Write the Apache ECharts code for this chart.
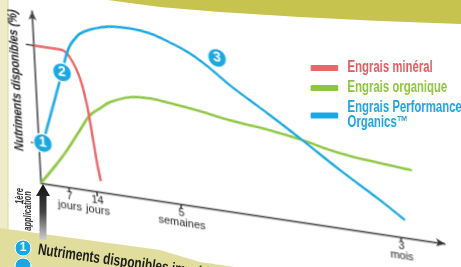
<!DOCTYPE html>
<html>
<head>
<meta charset="utf-8">
<script src="https://cdn.jsdelivr.net/npm/echarts@6/dist/echarts.min.js"></script>
<style>
html, body { margin: 0; padding: 0; background: #fff; overflow: hidden; width: 461px; height: 267px; }
#page, #chart { position: absolute; left: 0; top: 0; width: 461px; height: 267px; }
/* la page du dépliant est photographiée de biais : on incline le graphique */
#chart { transform: matrix(1, 0.15, 0.052, 1, 0, 0); transform-origin: 41px 183px; }
/* police étroite du dépliant : on resserre la légende */
#legend { position: absolute; left: 307px; top: 0; width: 220px; height: 267px; transform: scaleX(0.71); transform-origin: 0 0; }
</style>
</head>
<body>
<div id="page"></div>
<div id="chart"></div>
<div id="legend"></div>
<script>
// temps après la 1ère application (jours) et nutriments disponibles (%)
const mineralDays = [0, 4, 6.5, 8, 9.2, 10.3, 11.2, 12, 12.8, 13.7, 14.4, 15.1];
const mineralPct = [100, 100, 100, 98.4, 93.8, 87.8, 80.9, 71.2, 58.5, 37.1, 20.7, 8];

const organicDays = [0, 3.75, 7, 10.5, 13.2, 15.85, 18.4, 23.55, 28.6, 33.55, 38.5, 43.5, 48.4, 53.4, 58.4, 65.8, 75.7, 85.7, 93.6];
const organicPct = [0, 13.9, 27, 43, 55, 61.2, 66.7, 72.6, 74, 72.6, 71.1, 68.9, 66.7, 65.3, 63.8, 60.5, 54.7, 51.8, 50.2];

const perfDays = [1, 6.75, 8, 9.1, 10.5, 11.8, 14.4, 16.9, 20.2, 24.5, 29.4, 34.3, 39.2, 44.1, 48.9, 53.75, 58.6, 65.85, 75.5, 85.2, 91.2];
const perfPct = [29.5, 83.4, 96.2, 104, 109.6, 113.8, 117.8, 120.4, 122.5, 123, 121.5, 117.1, 111.3, 102.5, 92.3, 83.5, 74.8, 61.2, 42.3, 24.7, 12.8];

// repères de l'axe du temps
const tickDays = [7, 14, 35, 90];
const tickNums = ['7', '14', '5', '3'];
const tickUnits = ['jours', 'jours', 'semaines', 'mois'];
const pctTicks = [29, 100];

// pastilles numérotées sur la courbe bleue : [jour, %, numéro]
const badges = [[1, 29.5, '1'], [6.75, 83.4, '2'], [46, 111, '3']];

const seriesNames = ['Engrais minéral', 'Engrais organique', 'Engrais Performance Organics™'];
const colors = ['#e8676a', '#8dc641', '#1ba7e1'];
const textColors = ['#e05a5e', '#8cc43f', '#1da3de'];

const font = '"Liberation Sans", Arial, sans-serif';

function zip(xs, ys) {
  return xs.map((x, i) => [x, ys[i]]);
}

// ---------- fond de page ----------
const page = echarts.init(document.getElementById('page'));
page.setOption({
  animation: false,
  backgroundColor: '#fff',
  graphic: [
    // bandeau du titre
    {
      type: 'polygon',
      shape: { points: [[108, 0], [461, 0], [461, 24], [380, 21], [300, 17], [220, 12], [160, 7], [130, 3]] },
      style: { fill: '#c6c34f' }
    },
    // bord gauche de la page
    { type: 'rect', shape: { x: 0, y: 0, width: 8, height: 267 }, style: { fill: '#efedc9' } },
    { type: 'line', shape: { x1: 8, y1: 0, x2: 8, y2: 267 }, style: { stroke: '#dcd894', lineWidth: 1 } },
    // bandeau du bas
    {
      type: 'polygon',
      shape: { points: [[0, 228], [160, 250], [200, 262], [235, 267], [0, 267]] },
      style: { fill: '#e0dd9d' }
    },
    { type: 'circle', shape: { cx: 23, cy: 248, r: 8 }, style: { fill: '#1ba7e1', stroke: '#fff', lineWidth: 1 } },
    { type: 'text', x: 23, y: 248, style: { text: '1', fill: '#fff', font: 'bold 12px ' + font, align: 'center', verticalAlign: 'middle' } },
    { type: 'circle', shape: { cx: 23, cy: 266, r: 8 }, style: { fill: '#1ba7e1', stroke: '#fff', lineWidth: 1 } },
    {
      type: 'text', x: 38, y: 250, rotation: -8 * Math.PI / 180, scaleX: 0.74,
      style: { text: 'Nutriments disponibles immédiatement', fill: '#1d1d1b', font: 'bold 16px ' + font, align: 'left', verticalAlign: 'middle' }
    },
    // flèche de la 1ère application
    {
      type: 'polygon',
      shape: { points: [[43, 184], [50, 196], [46.5, 196], [46.5, 240], [39.5, 240], [39.5, 196], [36, 196]] },
      style: {
        fill: new echarts.graphic.LinearGradient(0, 0, 0, 1, [
          { offset: 0, color: '#111' },
          { offset: 0.5, color: '#444' },
          { offset: 1, color: '#d0d0d0' }
        ])
      }
    },
    {
      type: 'text', x: 20, y: 196, rotation: Math.PI / 2, scaleX: 0.7,
      style: { text: '1ère', fill: '#333', font: 'italic bold 11px ' + font, align: 'center', verticalAlign: 'middle' }
    },
    {
      type: 'text', x: 28, y: 211, rotation: Math.PI / 2, scaleX: 0.68,
      style: { text: 'application', fill: '#333', font: 'italic bold 11px ' + font, align: 'center', verticalAlign: 'middle' }
    }
  ]
});

// ---------- légende ----------
const legend = echarts.init(document.getElementById('legend'));
legend.setOption({
  animation: false,
  grid: { show: false, left: 0, right: 0, top: 0, bottom: 0 },
  xAxis: { show: false, type: 'value' },
  yAxis: { show: false, type: 'value' },
  legend: {
    orient: 'vertical',
    left: 0,
    top: 55,
    itemWidth: 39,
    itemHeight: 6,
    itemGap: 4,
    icon: 'roundRect',
    selectedMode: false,
    textStyle: { fontFamily: font, fontSize: 16, fontWeight: 'bold', lineHeight: 15, padding: [0, 0, 0, 8] },
    formatter: (n) => n.replace(' Organics', '\nOrganics'),
    data: seriesNames.map((n, i) => ({ name: n, textStyle: { color: textColors[i] } }))
  },
  series: seriesNames.map((n, i) => ({ name: n, type: 'line', color: colors[i], data: [] }))
});

// ---------- graphique ----------
const chart = echarts.init(document.getElementById('chart'));
chart.setOption({
  animation: false,
  grid: { left: 41, right: 16, top: 11, bottom: 84, outerBoundsMode: 'none' },
  xAxis: {
    type: 'value',
    min: 0,
    max: 101,
    splitLine: { show: false },
    axisLine: { lineStyle: { color: '#333', width: 1.3 }, symbol: ['none', 'arrow'], symbolSize: [6, 9] },
    axisTick: { customValues: tickDays, length: 5, lineStyle: { color: '#333', width: 1.5 } },
    axisLabel: {
      customValues: tickDays,
      margin: 4,
      color: '#222',
      fontFamily: font,
      fontSize: 11,
      lineHeight: 10,
      formatter: (v) => {
        const i = tickDays.indexOf(v);
        return tickNums[i] + '\n' + tickUnits[i];
      }
    }
  },
  yAxis: {
    type: 'value',
    min: 0,
    max: 125,
    splitLine: { show: false },
    axisLine: { show: true, lineStyle: { color: '#444', width: 1.6 }, symbol: ['none', 'arrow'], symbolSize: [6, 9] },
    axisTick: { show: true, customValues: pctTicks, length: 8, lineStyle: { color: '#333', width: 1.3 } },
    axisLabel: { show: false }
  },
  graphic: [
    {
      type: 'text', x: 21, y: 83, rotation: Math.PI / 2, scaleX: 0.84,
      style: { text: 'Nutriments disponibles (%)', fill: '#222', font: 'italic bold 13px ' + font, align: 'center', verticalAlign: 'middle' }
    }
  ],
  series: [
    {
      name: seriesNames[0], type: 'line', color: colors[0], data: zip(mineralDays, mineralPct),
      showSymbol: false, smooth: 0.4, lineStyle: { width: 2.5 }, z: 3
    },
    {
      name: seriesNames[1], type: 'line', color: colors[1], data: zip(organicDays, organicPct),
      showSymbol: false, smooth: 0.4, lineStyle: { width: 2.5 }, z: 2
    },
    {
      name: seriesNames[2], type: 'line', color: colors[2], data: zip(perfDays, perfPct),
      showSymbol: false, smooth: 0.4, lineStyle: { width: 2.5 }, z: 4,
      markPoint: {
        symbol: 'circle',
        symbolSize: 19,
        itemStyle: { color: colors[2], borderColor: '#fff', borderWidth: 1.5 },
        label: { color: '#fff', fontWeight: 'bold', fontSize: 14, fontFamily: font, formatter: (p) => p.data.num },
        data: badges.map((b) => ({ coord: [b[0], b[1]], num: b[2] }))
      }
    }
  ]
});
</script>
</body>
</html>
